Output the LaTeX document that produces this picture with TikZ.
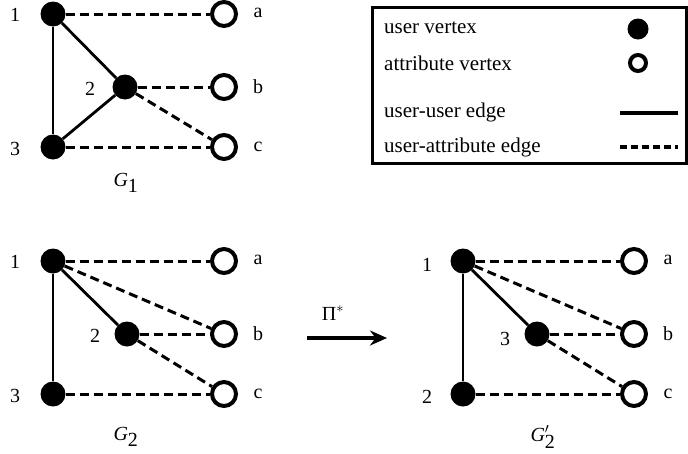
\documentclass[tikz,border=0pt]{standalone}
\usepackage{fontspec}
\setmainfont{LiberationSerif}[Extension=.ttf,UprightFont=*-Regular,ItalicFont=*-Italic,BoldFont=*-Bold,BoldItalicFont=*-BoldItalic]
\usetikzlibrary{arrows.meta}
\begin{document}
\begin{tikzpicture}[x=1pt,y=-1pt,
  uv/.style={circle,fill=black,minimum size=25pt,inner sep=0pt},
  av/.style={circle,draw=black,line width=4pt,minimum size=24pt,inner sep=0pt,fill=white},
  uue/.style={line width=2.8pt},
  uae/.style={line width=3pt,dash pattern=on 9pt off 5pt},
  lbl/.style={font=\fontsize{20}{22}\selectfont,inner sep=0pt},
  captxt/.style={font=\fontsize{20}{22}\selectfont,inner sep=0pt},
  leg/.style={font=\fontsize{21}{23}\selectfont,inner sep=0pt,anchor=west}]
\useasboundingbox (0,0) rectangle (688,453);
% ---------- G1
\node[uv] (u1) at (53,14) {};
\node[uv] (u2) at (125,87) {};
\node[uv] (u3) at (53,147) {};
\node[av] (a1) at (224,14) {};
\node[av] (b1) at (224,87) {};
\node[av] (c1) at (224,147) {};
\draw[uue] (u1) -- (u3);
\draw[uue] (u1) -- (u2);
\draw[uue] (u2) -- (u3);
\draw[uae] (u1) -- (a1);
\draw[uae] (u2) -- (b1);
\draw[uae] (u2) -- (c1);
\draw[uae] (u3) -- (c1);
\node[lbl] (l11) at (15,15) {1};
\node[lbl] (l12) at (90,89) {2};
\node[lbl] (l13) at (15,149) {3};
\node[lbl] (la1) at (258,13) {a};
\node[lbl] (lb1) at (258,87) {b};
\node[lbl] (lc1) at (258,147) {c};
\node[captxt] (g1) at (126,183) {\textit{G}$_{\textrm{1}}$};
% ---------- legend
\node[draw=black,line width=2.2pt,minimum width=314pt,minimum height=156pt,inner sep=0pt] (box) at (529.5,85.5) {};
\node[leg] (t1) at (384,28) {user vertex};
\node[leg] (t2) at (384,63) {attribute vertex};
\node[leg] (t3) at (384,112) {user-user edge};
\node[leg] (t4) at (384,147) {user-attribute edge};
\node[circle,fill=black,minimum size=21pt,inner sep=0pt] (s1) at (638,29) {};
\node[circle,draw=black,line width=4pt,minimum size=16pt,inner sep=0pt] (s2) at (638,63) {};
\coordinate (e1a) at (620,113);
\coordinate (e1b) at (678,113);
\coordinate (e2a) at (620,147);
\coordinate (e2b) at (678,147);
\draw[line width=3.3pt] (e1a) -- (e1b);
\draw[line width=3.3pt,dash pattern=on 7pt off 4pt] (e2a) -- (e2b);
% ---------- G2
\node[uv] (v1) at (53,261) {};
\node[uv] (v2) at (127,334) {};
\node[uv] (v3) at (53,394) {};
\node[av] (a2) at (224,261) {};
\node[av] (b2) at (224,334) {};
\node[av] (c2) at (224,394) {};
\draw[uue] (v1) -- (v3);
\draw[uue] (v1) -- (v2);
\draw[uae] (v1) -- (a2);
\draw[uae] (v1) -- (b2);
\draw[uae] (v2) -- (b2);
\draw[uae] (v2) -- (c2);
\draw[uae] (v3) -- (c2);
\node[lbl] (l21) at (15,262) {1};
\node[lbl] (l22) at (95,336) {2};
\node[lbl] (l23) at (15,396) {3};
\node[lbl] (la2) at (258,260) {a};
\node[lbl] (lb2) at (258,334) {b};
\node[lbl] (lc2) at (258,394) {c};
\node[captxt] (g2) at (126,437) {\textit{G}$_{\textrm{2}}$};
% ---------- arrow
\coordinate (ar1) at (307,338);
\coordinate (ar2) at (387,338);
\draw[line width=3.2pt,-{Stealth[length=17pt,width=15pt]}] (ar1) -- (ar2);
\node[lbl] (pi) at (333,313) {Π$^{*}$};
% ---------- G2'
\node[uv] (w1) at (463,261) {};
\node[uv] (w3) at (537,334) {};
\node[uv] (w2) at (463,394) {};
\node[av] (a3) at (634,261) {};
\node[av] (b3) at (634,334) {};
\node[av] (c3) at (634,394) {};
\draw[uue] (w1) -- (w2);
\draw[uue] (w1) -- (w3);
\draw[uae] (w1) -- (a3);
\draw[uae] (w1) -- (b3);
\draw[uae] (w3) -- (b3);
\draw[uae] (w3) -- (c3);
\draw[uae] (w2) -- (c3);
\node[lbl] (l31) at (427,265) {1};
\node[lbl] (l33) at (505,339) {3};
\node[lbl] (l32) at (427,397) {2};
\node[lbl] (la3) at (668,260) {a};
\node[lbl] (lb3) at (668,334) {b};
\node[lbl] (lc3) at (668,394) {c};
\node[captxt] (g3) at (543,437) {\textit{G}$'_{\textrm{2}}$};
\end{tikzpicture}
\end{document}
